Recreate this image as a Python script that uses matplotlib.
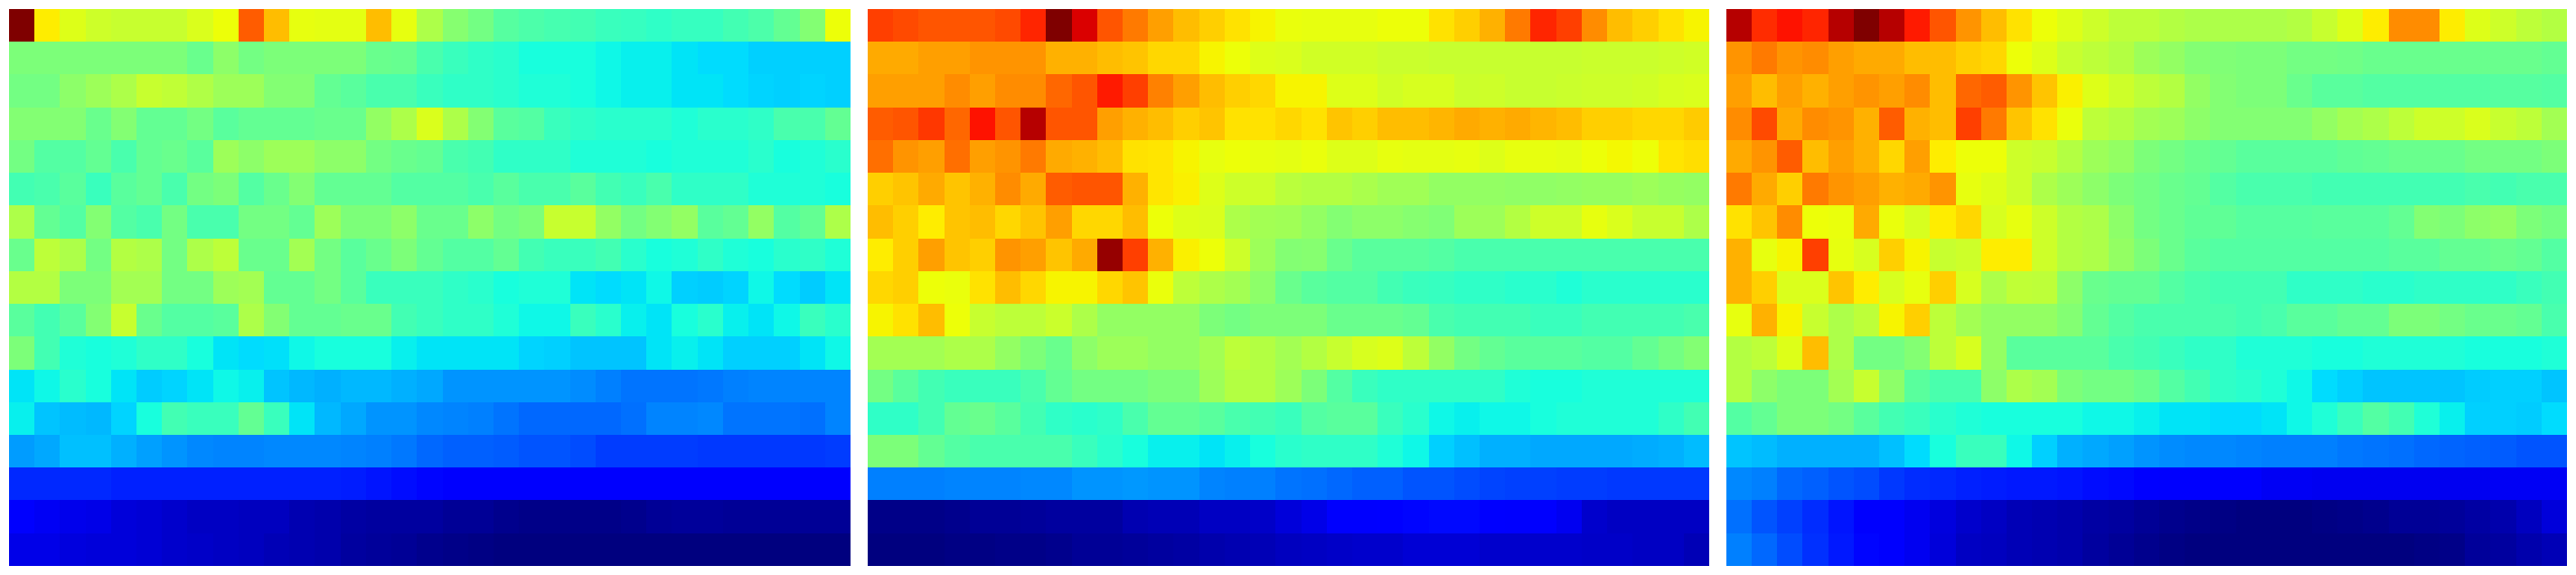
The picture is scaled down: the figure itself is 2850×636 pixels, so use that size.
import numpy as np
import matplotlib
matplotlib.use("Agg")
import matplotlib.pyplot as plt

# values, in percent of the colour scale
left_rows = [
    [100, 66, 62, 60, 59, 59, 59, 61.5, 64, 81, 71, 63, 62.5, 62.5, 71, 63, 56, 51.5, 49, 45.5, 44.5, 43.5, 43, 42, 41.5, 41, 41.5, 41.5, 43, 44.5, 47, 51, 64],
    [50, 50, 50, 50, 50, 50, 50, 48, 52, 49, 50, 50, 50, 50, 48, 47.5, 44, 42, 41, 40, 38, 38, 38, 37, 36, 36, 35, 34, 34, 33, 33, 33, 33],
    [49, 49, 52, 54, 56, 59, 58.5, 56.5, 54, 54, 51, 51, 47, 46, 44, 44, 42, 41, 41, 40, 39, 39, 38, 37, 36, 36, 35, 35, 34, 33.5, 33, 33.5, 33],
    [51, 51, 51, 48, 51, 47, 47, 49, 46, 47, 47, 47, 48, 48, 53, 56, 61.5, 56, 51, 46, 45, 42, 41, 40, 40, 40, 39, 40, 40, 41, 44, 44, 47],
    [49, 45, 45, 47, 44, 47, 48, 46, 54, 52, 54, 54, 52, 52, 49, 48, 47, 44, 43, 41, 41, 41, 39, 39, 39, 38, 39, 39, 39, 40, 38, 39, 40],
    [43, 44, 46, 42, 46, 47, 44, 49, 50, 45, 48, 51, 47, 47, 47, 45, 45, 45, 44, 46, 44, 44, 46, 43, 42, 44, 41, 41, 41, 39, 39, 39, 38],
    [56, 47, 45, 51, 45, 44, 49, 44, 44, 49, 49, 47, 54, 50, 50, 52, 48, 48, 52, 49, 50, 59, 59, 53, 49, 51, 53, 46, 47, 53, 45, 47, 56],
    [48, 58, 56, 49, 57, 56, 49, 56, 58, 48, 48, 55, 49, 46, 48, 50, 47, 45, 45, 47, 43, 42, 42, 43, 40, 38, 39, 41, 39, 38, 40, 41, 39],
    [57, 57, 50, 50, 55, 55, 49, 49, 54, 55, 47, 47, 49, 46, 42, 42, 42, 41, 40, 38, 39, 39, 35, 34, 35, 37, 33, 32.5, 33.5, 37, 34, 32.5, 35],
    [46, 43, 46, 51, 59, 48, 45, 45, 46, 56, 51, 47, 47, 48, 48, 43, 42, 41, 41, 39, 37, 37, 42, 40, 36, 35, 38, 40, 36, 35, 37, 42, 40],
    [50, 43, 39, 38, 39, 41, 41, 38, 35, 34, 34.5, 37, 38, 38, 38, 36, 35, 35, 35, 35, 33.5, 33, 32, 32, 32, 35, 36, 35, 33, 33, 33, 35, 37],
    [35, 37, 40, 38, 35, 32.5, 33.5, 35, 37, 36, 32, 30.5, 30, 30.5, 30.5, 30, 29, 27, 27, 27, 27, 27, 26.5, 25, 24, 24, 24, 24.5, 25, 25.5, 25.5, 25.5, 25.5],
    [36, 32, 31, 30.5, 33.5, 38, 43, 42, 42, 47, 42, 35, 30.5, 29, 27, 27, 26, 25.5, 25, 24, 23, 23, 23, 23, 23.5, 25.5, 25.5, 26, 24, 24, 24, 23.5, 25.5],
    [28, 29, 31.5, 31.5, 30, 28.5, 27, 26, 25.5, 25.5, 26, 26, 26, 25.5, 25, 24.5, 23, 22, 22, 21.5, 21, 21, 20, 18.5, 18.5, 18.5, 18.5, 18, 18, 18, 18, 18, 18.5],
    [16.5, 16.5, 16.5, 16.5, 16, 16, 16, 16, 16, 16, 16, 16, 16, 15.5, 14.5, 14, 13, 11, 11, 11, 11, 11, 11, 11, 11, 11, 11, 11, 11, 11, 11, 11, 11],
    [11, 10.5, 9.5, 9, 8, 7.5, 7, 6, 6, 5.5, 5.5, 4.5, 4, 3.5, 3, 3, 3, 2, 2, 1.5, 1, 1, 1, 1, 1.5, 2, 2.5, 2.5, 2, 2, 2, 2, 2],
    [9, 9, 8.5, 8, 8, 7.5, 7, 6.5, 6, 5.5, 5, 4.5, 4, 3, 2.5, 2, 1.5, 1, 0.5, 0, 0, 0, 0, 0, 0, 0, 0, 0, 0, 0, 0, 0, 0],
]

mid_rows = [
    [84, 83, 82, 82, 82, 83, 87, 100, 92, 82, 78, 74, 71, 69, 67, 65, 63.5, 63, 63, 63, 64, 64, 67, 69, 72, 78, 87, 84, 76, 71, 69, 67, 65],
    [73, 73, 74, 74, 75, 75, 75, 72, 72, 71, 70, 68, 68, 65, 64, 62, 61.5, 60.5, 60.5, 60.5, 59.5, 59.5, 59, 59, 59, 59, 59, 59, 59.5, 59.5, 59.5, 60, 60.5],
    [74, 74, 74, 76, 74, 76, 76, 80, 82, 88, 84, 77, 74, 71, 69, 68, 65, 65, 62, 62, 60.5, 61, 61, 59.5, 60, 59, 59, 59.5, 60, 60, 60.5, 61, 61.5],
    [81, 82, 85, 80, 89, 82, 95, 82, 82, 74, 72, 71, 69, 70, 67, 67, 68, 67, 70, 69, 71, 71, 71.5, 73, 72, 73, 71.5, 71, 69, 69, 68, 68, 69.5],
    [79, 75, 74, 79, 74, 75, 78, 73, 72, 71, 67, 66.5, 65, 63, 64, 63, 62.5, 63.5, 62, 62, 63, 62.5, 62.5, 63, 62, 63, 63, 62.5, 64, 64.5, 64, 66.5, 67.5],
    [69, 70, 73, 70, 72, 76, 73, 81, 82, 82, 72, 66.5, 65.5, 62, 60, 60, 57.5, 57, 57, 55.5, 54.5, 54.5, 53, 53, 53, 52.5, 52.5, 53, 53.5, 53.5, 54, 53.5, 53],
    [71, 69, 66, 70, 71, 68, 70, 74, 68, 68, 71, 64, 62, 61.5, 56, 55, 54.5, 53, 51, 52, 52, 51.5, 50.5, 54, 54, 57, 60, 60, 63, 61.5, 59, 59, 56],
    [66, 69, 74, 70, 69, 75, 74, 70, 73, 98, 84, 72, 65.5, 64, 60, 54, 51, 51.5, 48, 46, 46, 46, 45, 44, 44, 44, 44, 44, 44, 44, 44, 44, 44],
    [68, 69, 64, 63.5, 67, 71, 68, 65, 65, 68, 70, 63.5, 58, 56, 55, 52, 48, 46, 45, 45, 43, 42, 41.5, 41, 41, 40, 40, 39, 40, 40, 40, 40, 40],
    [65, 67, 71, 64, 59, 58, 58, 59.5, 56, 53, 53, 53, 53, 50, 49, 50, 50, 50, 48, 48, 48, 47, 44, 43, 43, 43, 42, 42, 43, 43, 43, 43, 44],
    [55, 55, 55, 56, 56, 53, 50, 48, 52, 54, 54, 53, 53, 55, 58, 57, 55, 57, 59, 61, 62, 58, 53, 49, 47, 46, 46, 46, 45, 45, 47, 49, 51],
    [49, 46, 43, 42, 42, 42, 44, 47, 49, 49, 49, 50, 50, 54, 57, 57, 54, 50, 45, 42, 41, 41, 41, 41, 41, 39, 38, 38, 39, 39, 39, 39, 39],
    [41, 41, 43, 47, 48, 46, 43, 41, 40, 41, 44, 47, 47, 46, 44, 43, 42, 45, 46, 46, 42, 40, 37, 36, 37, 37, 38, 39, 39, 39, 39, 41, 43],
    [50, 50, 47, 45, 44, 44, 44, 44, 42, 40, 38, 36, 36, 35, 36, 38, 40, 41, 41, 41, 39, 37, 33, 31.5, 30, 30, 29, 29, 29, 29, 29.5, 30, 31],
    [25, 25, 25, 25.5, 25.5, 25.5, 26, 26, 27, 27, 27.5, 27, 27, 25.5, 25, 25, 24, 23.5, 23, 22, 22, 21, 21, 20, 19.5, 19, 19, 18.5, 18.5, 18, 18, 18, 18],
    [1, 1, 1, 1.5, 2, 2, 2.5, 3, 3, 3, 4.5, 5, 5, 6, 6, 6.5, 8, 9, 11, 11, 12, 13, 13.5, 13.5, 12, 11, 11, 10, 7, 6, 6, 6, 6],
    [0, 0, 0, 0.5, 0.5, 1, 1, 1.5, 2, 2, 2.5, 3, 3.5, 4, 4.5, 5, 5.5, 6, 6.5, 7, 7, 7.5, 7.5, 7.5, 7, 7, 7, 7, 6.5, 6.5, 6, 6, 5],
]

right_rows = [
    [95, 86, 89, 87, 95, 100, 95, 88, 82, 75, 71, 67, 64, 62, 60, 58, 58, 57, 56, 56, 56, 56, 57, 59, 62, 66, 76, 76, 66, 62, 60, 58, 57],
    [75, 78, 75, 76, 74, 73, 73, 71, 71, 69, 68, 64, 62, 59, 58, 57, 54, 53, 51, 50.5, 50, 50, 49, 49, 48.5, 48, 48, 48, 48, 48, 48, 48, 47],
    [74, 71, 74, 72, 74, 75, 74, 76, 71, 80, 81, 75, 70, 65.5, 62, 60, 58, 57, 53, 51, 50, 50, 48, 46, 46, 45, 45, 45, 45, 45, 45.5, 45.5, 45],
    [76, 83, 73, 76, 75, 72, 81, 72, 71, 84, 78, 70, 67, 63.5, 58, 57, 55, 54, 52, 51, 51, 51, 51, 53, 55, 56, 58, 60, 60, 61.5, 59, 58, 55],
    [73, 75, 81, 71, 74, 72, 68, 74, 66, 64, 64, 60, 59, 57, 54, 53, 50, 49, 48, 47, 46, 46, 46, 46, 46.5, 47, 48, 48, 48, 49, 49, 49, 50],
    [78, 73, 69, 78, 75, 74, 72, 73, 75, 63, 62, 60, 56, 54, 52, 50, 49, 48, 47, 45, 44, 44, 44, 43, 43, 43, 43, 43, 43, 44, 43, 44, 44],
    [67, 70, 76, 64, 63.5, 73, 63.5, 61, 66, 68, 61, 63, 60, 57, 56, 52, 49, 48, 46.5, 46.5, 45.5, 45.5, 45.5, 46, 46, 46, 47, 51, 50, 52, 53, 50, 49],
    [72, 63, 65, 84, 63, 61, 69, 65, 59, 60, 66, 66, 60, 57, 56, 53, 50, 48, 46, 45, 45, 45, 45, 45, 45, 45, 46, 46, 47, 47, 48, 47, 45],
    [72, 69, 61.5, 61.5, 70, 66, 61, 63, 69, 61, 56, 58.5, 58, 52, 48, 47, 47, 45, 44, 43, 43, 43, 41, 41, 41, 40, 40, 41, 41, 41, 41, 42, 43],
    [63, 72, 65, 59, 56, 58, 65, 69, 58, 55, 53, 53, 53, 51, 47, 45, 44, 44, 44, 44, 43, 44, 46, 46, 47, 47, 50, 50, 49, 48, 48, 47, 44],
    [57, 58, 62, 71, 56, 49, 49, 51, 58, 61, 53, 46, 46, 46, 46, 44, 43, 42, 41, 41, 39, 39, 39, 38, 38, 39, 39, 39, 39, 38, 38, 38, 39],
    [57, 52, 50, 50, 55, 59, 52, 46, 44, 44, 52, 56, 55, 50, 49, 49, 48, 45, 43, 41, 40, 39, 37, 34, 33, 32, 32, 32, 32, 32.5, 33, 33, 32],
    [45, 47, 50, 50, 49, 46, 43, 42, 40, 39, 38, 38, 38, 38, 37, 37, 36, 35, 35, 34, 34, 35, 37, 39, 42, 45, 43, 39, 36, 33, 33, 32.5, 34],
    [32, 31, 30, 30, 30, 30, 31.5, 34, 38, 42, 42, 37, 33, 30, 29, 28.5, 27, 26.5, 26, 26, 25.5, 25, 25, 25, 24.5, 24, 23.5, 23, 22.5, 22, 21.5, 21, 21],
    [26, 25, 23, 22, 21, 20, 18, 17, 16.5, 16, 15.5, 15, 15, 14.5, 14, 13.5, 12, 11, 11, 11, 11, 10.5, 10.5, 10, 10, 10, 10, 10, 10, 10, 10.5, 10.5, 10.5],
    [23.5, 21, 19, 17, 14.5, 11, 11, 10, 8.5, 7, 6, 5, 4.5, 4, 3.5, 3, 2, 1.5, 1, 0.5, 0, 0, 0, 0.5, 1, 1.5, 2, 2, 2.5, 3.5, 4, 5.5, 8],
    [25, 23, 20, 17.5, 15, 13, 11, 10, 8, 6, 5.5, 5, 4.5, 4, 3, 2, 1.5, 0.5, 0, 0, 0, 0, 0, 0, 0, 0, 0, 0.5, 1, 2.5, 3, 4, 5],
]

W, H = 2850, 636
fig = plt.figure(figsize=(W / 100, H / 100), dpi=100)

for rows, x0 in zip([left_rows, mid_rows, right_rows], [10, 960, 1910]):
    ax = fig.add_axes([x0 / W, 10 / H, 930 / W, 616 / H])
    ax.imshow(np.array(rows), cmap="jet", vmin=0, vmax=100, aspect="auto", interpolation="nearest")
    ax.axis("off")

fig.savefig("out.png", dpi=100)
